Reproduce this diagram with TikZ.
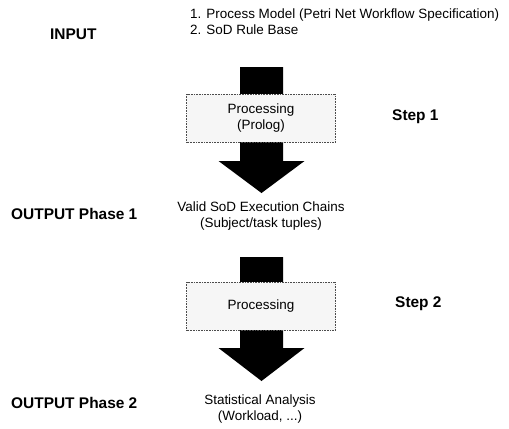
\documentclass[tikz,border=0pt]{standalone}
\usepackage{fontspec}
\setmainfont{Liberation Sans}
\begin{document}
\begin{tikzpicture}[x=1bp,y=-1bp,
  txt/.style={inner sep=0pt,align=center,font=\fontsize{13.5}{16}\selectfont},
  lbl/.style={inner sep=0pt,anchor=west,font=\fontsize{15.5}{18}\selectfont\bfseries},
  procbox/.style={draw=black!70,densely dotted,line width=0.6pt,fill=gray!7,
    minimum width=149bp,minimum height=48bp,inner sep=0pt,align=center,
    font=\fontsize{13.5}{16}\selectfont},
  blockarrow/.style={fill=black,draw=none}]
\useasboundingbox (0,0) rectangle (509,428);

% side labels
\node[lbl] (input) at (50,34) {INPUT};
\node[lbl] (step1) at (392,117) {Step 1};
\node[lbl] (out1) at (11,214) {OUTPUT Phase 1};
\node[lbl] (step2) at (395,304) {Step 2};
\node[lbl] (out2) at (11,403) {OUTPUT Phase 2};

% input list
\node[txt,anchor=west] (in1) at (190,15) {1. Process Model (Petri Net Workflow Specification)};
\node[txt,anchor=west] (in2) at (190,30) {2. SoD Rule Base};

% results
\node[txt] (chains) at (261,216) {Valid SoD Execution Chains\\(Subject/task tuples)};
\node[txt] (stats) at (260,409) {Statistical Analysis\\(Workload, ...)};

% block arrows: shaft 43 wide, head 86 wide and 32 high
\coordinate (a1top) at (261.5,67);
\coordinate (a1tip) at (261.5,193);
\coordinate (a2top) at (261.5,257);
\coordinate (a2tip) at (261.5,381);
\fill[blockarrow] ([xshift=-21.5bp]a1top) -- ([xshift=21.5bp]a1top)
  -- ([xshift=21.5bp,yshift=32bp]a1tip) -- ([xshift=43bp,yshift=32bp]a1tip)
  -- (a1tip) -- ([xshift=-43bp,yshift=32bp]a1tip)
  -- ([xshift=-21.5bp,yshift=32bp]a1tip) -- cycle;
\fill[blockarrow] ([xshift=-21.5bp]a2top) -- ([xshift=21.5bp]a2top)
  -- ([xshift=21.5bp,yshift=33bp]a2tip) -- ([xshift=43bp,yshift=33bp]a2tip)
  -- (a2tip) -- ([xshift=-43bp,yshift=33bp]a2tip)
  -- ([xshift=-21.5bp,yshift=33bp]a2tip) -- cycle;

% processing boxes
\node[procbox] (proc1) at (261,118) {Processing\\(Prolog)};
\node[procbox] (proc2) at (261,306) {Processing};
\end{tikzpicture}
\end{document}
